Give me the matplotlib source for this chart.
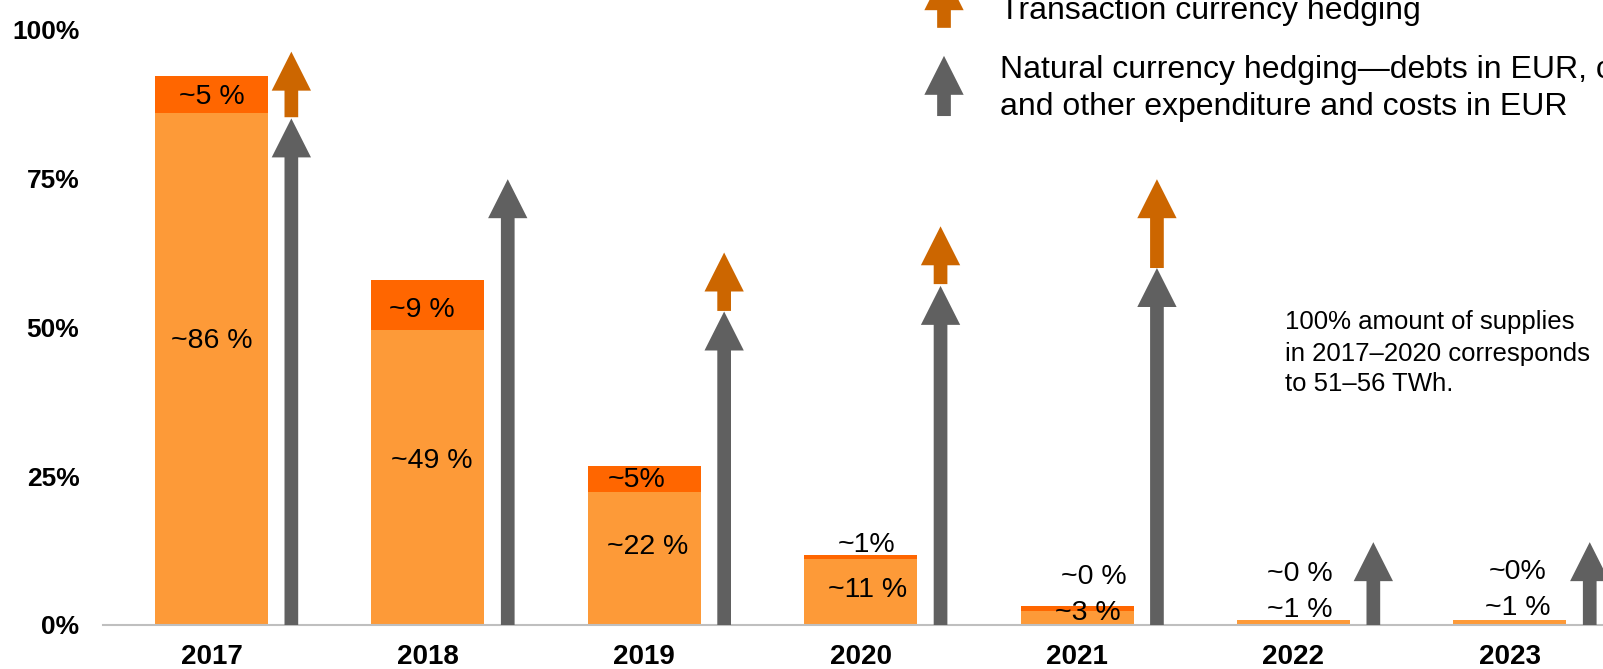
import matplotlib.pyplot as plt

plt.rcParams['font.family'] = ['Liberation Sans', 'DejaVu Sans']

# data
years = ['2017', '2018', '2019', '2020', '2021', '2022', '2023']
base_share = [85.9, 49.5, 22.3, 11.1, 2.4, 0.85, 0.85]      # light orange part
top_share = [6.2, 8.4, 4.4, 0.6, 0.8, 0.0, 0.0]             # dark orange part
base_labels = ['~86 %', '~49 %', '~22 %', '~11 %', '~3 %', '~1 %', '~1 %']
top_labels = ['~5 %', '~9 %', '~5%', '~1%', '~0 %', '~0 %', '~0%']
natural_hedge = [85.0, 74.8, 52.6, 56.9, 59.9, 13.9, 13.9]  # gray arrow tips
trans_from = [85.2, None, 52.7, 57.2, 59.9, None, None]     # orange arrow base
trans_to = [96.2, None, 62.5, 66.9, 74.8, None, None]       # orange arrow tip
yticks = [0, 25, 50, 75, 100]
ytick_labels = ['0%', '25%', '50%', '75%', '100%']

# label placement (x shift, y position)
base_lab_dx = [0.0, 0.02, 0.017, 0.034, 0.049, 0.03, 0.037]
base_lab_y = [47.6, 27.5, 13.1, 5.8, 1.95, 2.5, 2.8]
top_lab_dx = [0.0, -0.026, -0.035, 0.028, 0.078, 0.03, 0.037]
top_lab_y = [88.6, 52.9, 24.3, 13.4, 8.0, 8.5, 8.9]

c_light = '#FD9A38'
c_dark = '#FF6600'
c_trans = '#CC6600'
c_gray = '#606060'

fig = plt.figure(figsize=(16.03, 6.69), dpi=100)
ax = fig.add_axes([103 / 1603, 44 / 669, 1 - 103 / 1603, 625 / 669])
ax.set_xlim(-0.5014, 6.4303)
ax.set_ylim(0, 104.87)

x = list(range(len(years)))
bw = 0.522
ax.bar(x, base_share, width=bw, color=c_light, zorder=1)
ax.bar(x, top_share, width=bw, bottom=base_share, color=c_dark, zorder=1)

off = 0.369
shaft = 0.0633
head_w = 0.1816
head_l = 6.54
for i in x:
    ax.arrow(i + off, 0, 0, natural_hedge[i], width=shaft, head_width=head_w,
             head_length=head_l, length_includes_head=True, fc=c_gray, ec='none', lw=0, zorder=3)
    if trans_from[i] is not None:
        ax.arrow(i + off, trans_from[i], 0, trans_to[i] - trans_from[i], width=shaft,
                 head_width=head_w, head_length=head_l, length_includes_head=True,
                 fc=c_trans, ec='none', lw=0, zorder=3)
    ax.text(i + base_lab_dx[i], base_lab_y[i], base_labels[i], ha='center', va='center',
            fontsize=20.5, zorder=4)
    ax.text(i + top_lab_dx[i], top_lab_y[i], top_labels[i], ha='center', va='center',
            fontsize=20.5, zorder=4)

# legend drawn by hand like the original slide
lx = 3.385
ax.arrow(lx, 100.2, 0, 9.5, width=shaft, head_width=head_w, head_length=head_l,
         length_includes_head=True, fc=c_trans, ec='none', lw=0, clip_on=False)
ax.arrow(lx, 85.4, 0, 10.1, width=shaft, head_width=head_w, head_length=head_l,
         length_includes_head=True, fc=c_gray, ec='none', lw=0, clip_on=False)
ax.text(3.644, 101.6, 'Transaction currency hedging', fontsize=23, va='baseline')
ax.text(3.644, 91.8, 'Natural currency hedging\u2014debts in EUR, c', fontsize=23, va='baseline')
ax.text(3.644, 85.6, 'and other expenditure and costs in EUR', fontsize=23, va='baseline')

# note
ax.text(4.961, 49.6, '100% amount of supplies', fontsize=18.5, va='baseline')
ax.text(4.961, 44.35, 'in 2017\u20132020 corresponds', fontsize=18.5, va='baseline')
ax.text(4.961, 39.3, 'to 51\u201356 TWh.', fontsize=18.5, va='baseline')

ax.set_xticks(x)
ax.set_xticklabels(years, fontweight='bold', fontsize=20)
ax.set_yticks(yticks)
ax.set_yticklabels(ytick_labels, fontweight='bold', fontsize=19)
ax.tick_params(axis='x', length=0, pad=14)
ax.tick_params(axis='y', length=0, pad=17)
for s in ['left', 'top', 'right']:
    ax.spines[s].set_visible(False)
ax.spines['bottom'].set_color('#BFBFBF')
ax.spines['bottom'].set_linewidth(1.5)
ax.spines['bottom'].set_zorder(2)

fig.savefig('out.png', dpi=100)
